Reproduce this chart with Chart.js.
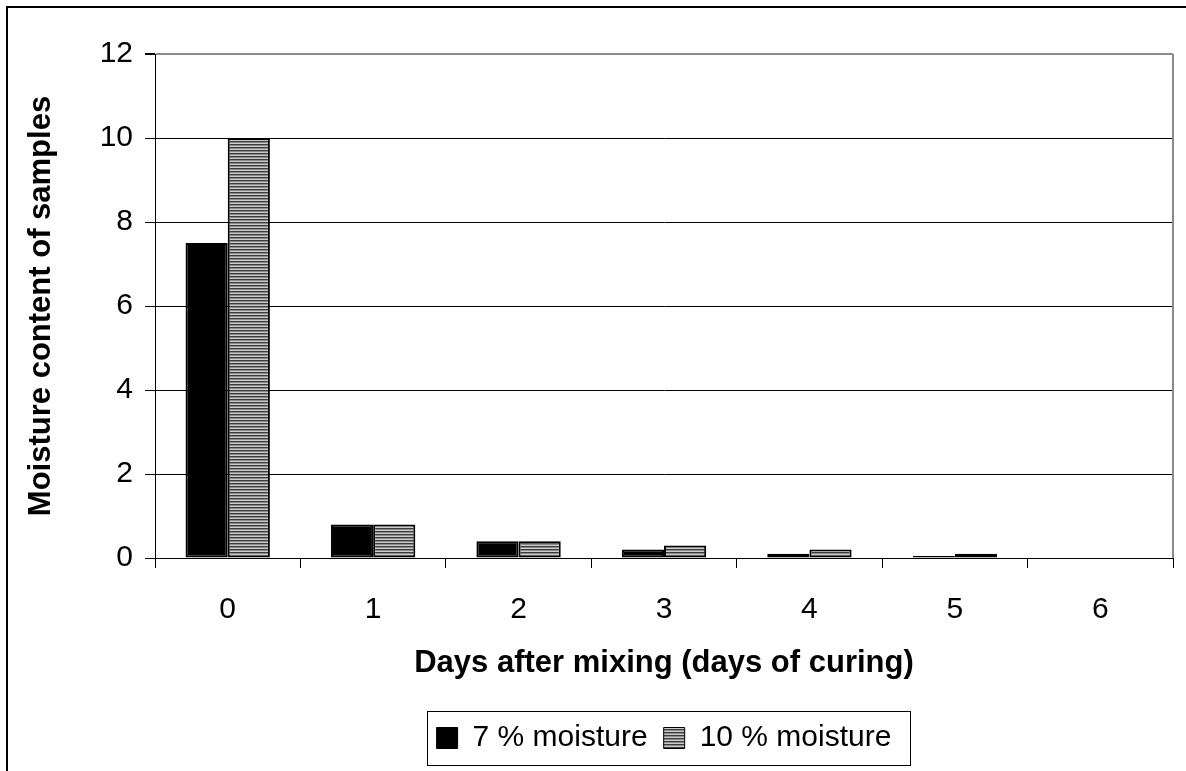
<!DOCTYPE html>
<html>
<head>
<meta charset="utf-8">
<script src="https://cdn.jsdelivr.net/npm/chart.js@4"></script>
<style>
    html, body { margin: 0; padding: 0; background: #fff; }
    #wrap { width: 1186px; height: 771px; }
</style>
</head>
<body>
<div id="wrap"><canvas id="chart" width="1186" height="771"></canvas></div>
<script>
// Chart data
const days = ['0', '1', '2', '3', '4', '5', '6'];
const moisture7 = [7.5, 0.8, 0.4, 0.2, 0.1, 0.05, 0];
const moisture10 = [10, 0.8, 0.4, 0.3, 0.2, 0.1, 0];
const yTicks = [0, 2, 4, 6, 8, 10, 12];

const FONT = "'Liberation Sans', Arial, sans-serif";

// horizontal stripe fill for the 10 % series
function stripePattern() {
    const c = document.createElement('canvas');
    c.width = 4;
    c.height = 3;
    const g = c.getContext('2d');
    g.fillStyle = '#3c3c3c'; g.fillRect(0, 0, 4, 1);
    g.fillStyle = '#8c8c8c'; g.fillRect(0, 1, 4, 1);
    g.fillStyle = '#cacaca'; g.fillRect(0, 2, 4, 1);
    return g.createPattern(c, 'repeat');
}
const stripes = stripePattern();

// frame lines, plot border and legend box
const framePlugin = {
    id: 'frame',
    afterDraw(chart) {
        const ctx = chart.ctx;
        const a = chart.chartArea;
        ctx.save();
        // outer frame (only top and left are in view)
        ctx.strokeStyle = '#000';
        ctx.lineWidth = 2;
        ctx.beginPath();
        ctx.moveTo(7, 771);
        ctx.lineTo(7, 7);
        ctx.lineTo(1186, 7);
        ctx.stroke();
        // right edge of plot area
        ctx.strokeStyle = '#8c8c8c';
        ctx.lineWidth = 2;
        ctx.beginPath();
        ctx.moveTo(a.right, a.top);
        ctx.lineTo(a.right, a.bottom);
        ctx.stroke();
        // legend border
        const hb = chart.legend.legendHitBoxes;
        if (hb && hb.length) {
            const first = hb[0];
            const last = hb[hb.length - 1];
            const cy = first.top + first.height / 2;
            const x0 = first.left - 10;
            const x1 = last.left + last.width + 18;
            ctx.strokeStyle = '#000';
            ctx.lineWidth = 1;
            ctx.strokeRect(Math.round(x0) + 0.5, Math.round(cy - 27) + 0.5,
                Math.round(x1 - x0), 54);
        }
        ctx.restore();
    }
};

const chart = new Chart(document.getElementById('chart').getContext('2d'), {
    type: 'bar',
    data: {
        labels: days,
        datasets: [{
            label: '7 % moisture',
            data: moisture7,
            backgroundColor: '#000',
            borderColor: '#000',
            borderWidth: 2,
            borderSkipped: false
        }, {
            label: '10 % moisture',
            data: moisture10,
            backgroundColor: stripes,
            borderColor: '#000',
            borderWidth: 2,
            borderSkipped: false
        }]
    },
    options: {
        responsive: false,
        animation: false,
        devicePixelRatio: 1,
        categoryPercentage: 0.58,
        barPercentage: 1,
        layout: {
            padding: { left: 8, right: 13, top: 54, bottom: 8 }
        },
        plugins: {
            tooltip: { enabled: false },
            legend: {
                position: 'bottom',
                fullSize: false,
                labels: {
                    color: '#000',
                    font: { family: FONT, size: 30 },
                    boxWidth: 21,
                    boxHeight: 21,
                    padding: 16,
                    generateLabels: (chart) => chart.data.datasets.map((ds, i) => ({
                        text: ds.label,
                        fillStyle: ds.backgroundColor,
                        strokeStyle: '#000',
                        lineWidth: 1,
                        fontColor: '#000',
                        datasetIndex: i
                    }))
                }
            }
        },
        scales: {
            x: {
                grid: {
                    drawOnChartArea: false,
                    tickLength: 10,
                    tickColor: '#000'
                },
                border: { color: '#000', width: 1 },
                ticks: {
                    color: '#000',
                    padding: 24,
                    font: { family: FONT, size: 30 }
                },
                title: {
                    display: true,
                    text: 'Days after mixing (days of curing)',
                    color: '#000',
                    font: { family: FONT, size: 31, weight: 'bold' },
                    padding: { top: 0, bottom: 25 }
                },
                afterFit: (s) => { s.height = 149; }
            },
            y: {
                min: 0,
                max: 12,
                afterBuildTicks: (s) => { s.ticks = yTicks.map(v => ({ value: v })); },
                grid: {
                    color: (c) => c.tick && c.tick.value === 12 ? '#8c8c8c' : '#000',
                    lineWidth: (c) => c.tick && c.tick.value === 12 ? 2 : 1,
                    tickLength: 10,
                    tickColor: '#000'
                },
                border: { color: '#000', width: 1 },
                ticks: {
                    color: '#000',
                    padding: 12,
                    font: { family: FONT, size: 30 }
                },
                title: {
                    display: true,
                    text: 'Moisture content of samples',
                    color: '#000',
                    font: { family: FONT, size: 31, weight: 'bold' },
                    padding: { top: 15, bottom: 0 }
                },
                afterFit: (s) => { s.width = 147; }
            }
        }
    },
    plugins: [framePlugin]
});
</script>
</body>
</html>
